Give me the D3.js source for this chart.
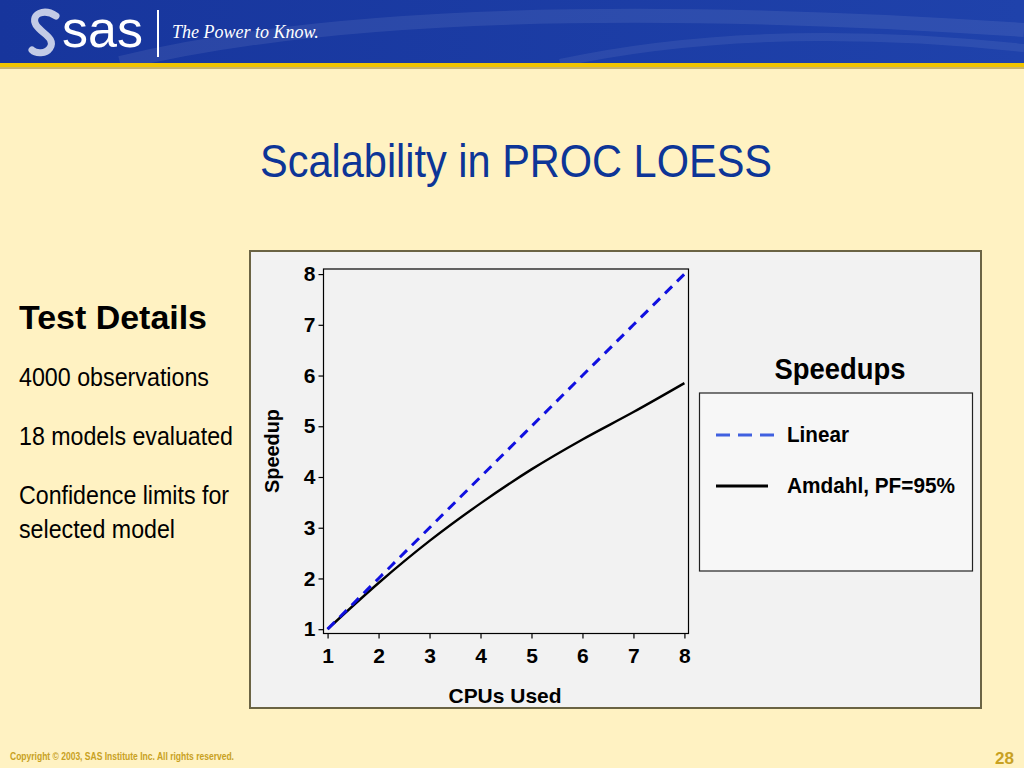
<!DOCTYPE html>
<html>
<head>
<meta charset="utf-8">
<script src="https://cdn.jsdelivr.net/npm/d3@7"></script>
<style>
  html, body { margin: 0; padding: 0; background: #fff2c2; }
  svg { display: block; }
</style>
</head>
<body>
<svg id="chart"></svg>
<script>
// Data
const cpus = [1, 2, 3, 4, 5, 6, 7, 8];
const linearSpeedup = [1, 2, 3, 4, 5, 6, 7, 8];
const amdahlSpeedup = [1, 1.91, 2.74, 3.48, 4.15, 4.74, 5.28, 5.85];
const xTicks = [1, 2, 3, 4, 5, 6, 7, 8];
const yTicks = [1, 2, 3, 4, 5, 6, 7, 8];
const seriesNames = ["Linear", "Amdahl, PF=95%"];
const detailLines = ["4000 observations", "18 models evaluated", "Confidence limits for", "selected model"];

const W = 1024, H = 768;
const font = "Liberation Sans, Arial, sans-serif";
const svg = d3.select("#chart").attr("width", W).attr("height", H);

// Slide background
svg.append("rect").attr("width", W).attr("height", H).attr("fill", "#fff2c2");

// Header bar
const defs = svg.append("defs");
const grad = defs.append("linearGradient").attr("id", "hdr").attr("x1", 0).attr("x2", 1);
grad.append("stop").attr("offset", "0%").attr("stop-color", "#17359c");
grad.append("stop").attr("offset", "100%").attr("stop-color", "#1f42ab");
svg.append("rect").attr("width", W).attr("height", 63).attr("fill", "url(#hdr)");
// faint swooshes
svg.append("path").attr("d", "M120,63 Q420,-10 1024,30").attr("fill", "none")
  .attr("stroke", "#ffffff").attr("stroke-opacity", 0.08).attr("stroke-width", 14);
svg.append("path").attr("d", "M560,63 Q760,20 1024,48").attr("fill", "none")
  .attr("stroke", "#ffffff").attr("stroke-opacity", 0.07).attr("stroke-width", 8);
svg.append("rect").attr("y", 63).attr("width", W).attr("height", 4).attr("fill", "#f0c400");
svg.append("rect").attr("y", 67).attr("width", W).attr("height", 2).attr("fill", "#c9b46a");

// Logo: swirl S, "sas", divider, tagline
svg.append("path")
  .attr("d", "M56,16 C44,8 30,14 36,25 C42,34 56,38 50,48 C46,54 36,54 32,50")
  .attr("fill", "none").attr("stroke", "#c3cbe6").attr("stroke-width", 7)
  .attr("stroke-linecap", "round");
svg.append("text").attr("x", 62).attr("y", 47)
  .attr("font-family", font).attr("font-size", 52).attr("fill", "#ffffff").text("sas");
svg.append("line").attr("x1", 158).attr("x2", 158).attr("y1", 10).attr("y2", 57)
  .attr("stroke", "#ffffff").attr("stroke-width", 2);
svg.append("text").attr("x", 172).attr("y", 38)
  .attr("font-family", "Liberation Serif, serif").attr("font-style", "italic")
  .attr("font-size", 18).attr("fill", "#ffffff").text("The Power to Know.");

// Title
svg.append("text").attr("x", 516).attr("y", 177).attr("text-anchor", "middle")
  .attr("font-family", font).attr("font-size", 46).attr("fill", "#0d3597")
  .attr("textLength", 512).attr("lengthAdjust", "spacingAndGlyphs")
  .text("Scalability in PROC LOESS");

// Left text block
svg.append("text").attr("x", 19).attr("y", 329)
  .attr("font-family", font).attr("font-weight", "bold").attr("font-size", 33)
  .attr("fill", "#000").attr("textLength", 188).attr("lengthAdjust", "spacingAndGlyphs")
  .text("Test Details");
const detailY = [386, 445, 504, 538];
const detailW = [190, 214, 210, 156];
svg.selectAll(".detail").data(detailLines).enter().append("text")
  .attr("class", "detail")
  .attr("x", 19).attr("y", (d, i) => detailY[i])
  .attr("font-family", font).attr("font-size", 26).attr("fill", "#000")
  .attr("textLength", (d, i) => detailW[i]).attr("lengthAdjust", "spacingAndGlyphs")
  .text(d => d);

// Chart panel
svg.append("rect").attr("x", 250).attr("y", 251).attr("width", 731).attr("height", 457)
  .attr("fill", "#f2f2f2").attr("stroke", "#6b6444").attr("stroke-width", 2);

// Plot area
const plot = { left: 323.5, right: 688.5, top: 269, bottom: 633.5 };
const x = d3.scaleLinear().domain([0.92, 8.08]).range([plot.left, plot.right]);
const y = d3.scaleLinear().domain([0.915, 8.1]).range([plot.bottom, plot.top]);

svg.append("rect").attr("x", plot.left).attr("y", plot.top)
  .attr("width", plot.right - plot.left).attr("height", plot.bottom - plot.top)
  .attr("fill", "#f2f2f2").attr("stroke", "#000").attr("stroke-width", 1.2);

const xAxis = svg.append("g")
  .attr("transform", "translate(0," + plot.bottom + ")")
  .call(d3.axisBottom(x).tickValues(xTicks).tickSize(5).tickPadding(10).tickSizeOuter(0));
const yAxis = svg.append("g")
  .attr("transform", "translate(" + plot.left + ",0)")
  .call(d3.axisLeft(y).tickValues(yTicks).tickSize(5).tickPadding(3).tickSizeOuter(0));
[xAxis, yAxis].forEach(g => {
  g.select(".domain").remove();
  g.selectAll(".tick line").attr("stroke", "#000").attr("stroke-width", 1.2);
  g.selectAll(".tick text")
    .attr("font-family", font).attr("font-weight", "bold")
    .attr("font-size", 21).attr("fill", "#000");
});

// Axis labels
svg.append("text").attr("x", 505).attr("y", 703).attr("text-anchor", "middle")
  .attr("font-family", font).attr("font-weight", "bold").attr("font-size", 21)
  .attr("fill", "#000").attr("textLength", 113).attr("lengthAdjust", "spacingAndGlyphs")
  .text("CPUs Used");
svg.append("text").attr("transform", "translate(279,451) rotate(-90)")
  .attr("text-anchor", "middle")
  .attr("font-family", font).attr("font-weight", "bold").attr("font-size", 21)
  .attr("fill", "#000").attr("textLength", 84).attr("lengthAdjust", "spacingAndGlyphs")
  .text("Speedup");

// Series
const line = d3.line().x(d => x(d[0])).y(d => y(d[1])).curve(d3.curveMonotoneX);
svg.append("path").datum(d3.zip(cpus, amdahlSpeedup))
  .attr("d", line).attr("fill", "none").attr("stroke", "#000").attr("stroke-width", 2.4);
svg.append("path").datum(d3.zip(cpus, linearSpeedup))
  .attr("d", line).attr("fill", "none").attr("stroke", "#1010e0")
  .attr("stroke-width", 3).attr("stroke-dasharray", "10,7");

// Legend
svg.append("text").attr("x", 840).attr("y", 379).attr("text-anchor", "middle")
  .attr("font-family", font).attr("font-weight", "bold").attr("font-size", 29)
  .attr("fill", "#000").attr("textLength", 131).attr("lengthAdjust", "spacingAndGlyphs")
  .text("Speedups");
svg.append("rect").attr("x", 699.5).attr("y", 393).attr("width", 273).attr("height", 178)
  .attr("fill", "#f7f7f7").attr("stroke", "#222").attr("stroke-width", 1.2);

const legendStyles = [
  { color: "#4060e0", dash: "14,8", x2: 776, y: 435, w: 62 },
  { color: "#000", dash: null, x2: 768, y: 486, w: 168 }
];
const leg = svg.selectAll(".leg").data(seriesNames).enter().append("g").attr("class", "leg");
leg.append("line")
  .attr("x1", 716).attr("x2", (d, i) => legendStyles[i].x2)
  .attr("y1", (d, i) => legendStyles[i].y).attr("y2", (d, i) => legendStyles[i].y)
  .attr("stroke", (d, i) => legendStyles[i].color).attr("stroke-width", 3)
  .attr("stroke-dasharray", (d, i) => legendStyles[i].dash);
leg.append("text")
  .attr("x", 787).attr("y", (d, i) => legendStyles[i].y + 7)
  .attr("font-family", font).attr("font-weight", "bold").attr("font-size", 22)
  .attr("fill", "#000").attr("textLength", (d, i) => legendStyles[i].w)
  .attr("lengthAdjust", "spacingAndGlyphs").text(d => d);

// Footer
svg.append("text").attr("x", 10).attr("y", 760)
  .attr("font-family", font).attr("font-weight", "bold")
  .attr("font-size", 10).attr("fill", "#c8a122")
  .attr("textLength", 224).attr("lengthAdjust", "spacingAndGlyphs")
  .text("Copyright © 2003, SAS Institute Inc. All rights reserved.");
svg.append("text").attr("x", 1014).attr("y", 764).attr("text-anchor", "end")
  .attr("font-family", font).attr("font-weight", "bold")
  .attr("font-size", 17).attr("fill", "#c8a122").text("28");
</script>
</body>
</html>
